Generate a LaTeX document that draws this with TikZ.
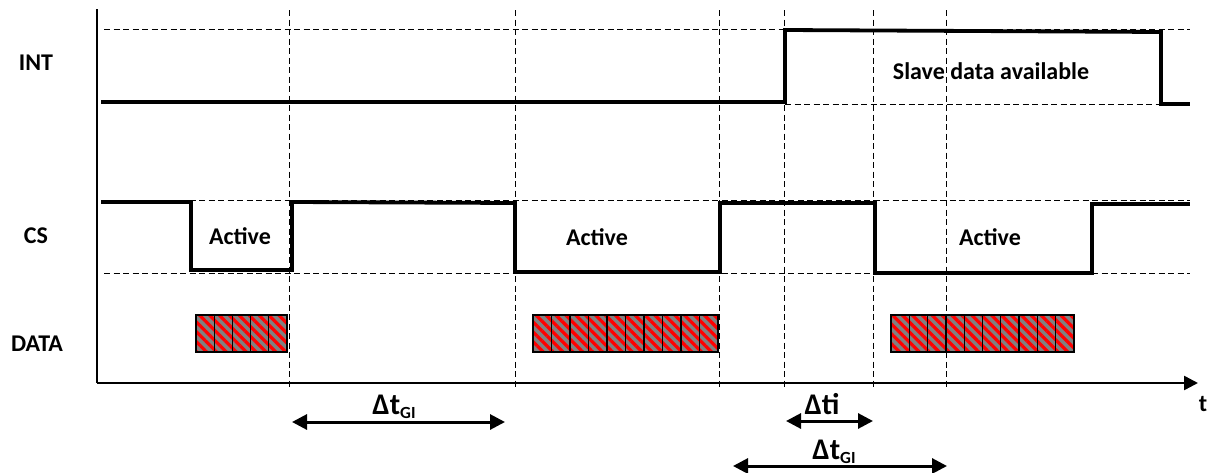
\documentclass[tikz,border=0pt]{standalone}
\usepackage{fontspec}
\setmainfont{Carlito}
\usetikzlibrary{arrows.meta,patterns.meta}
\begin{document}
\begin{tikzpicture}[x=1pt,y=-1pt,
  sig/.style={line width=3.8pt, line join=miter, line cap=rect},
  guide/.style={line width=1pt, dash pattern=on 6pt off 3.5pt},
  axisline/.style={line width=2.5pt, line join=miter},
  lbl/.style={font=\fontsize{24}{27}\selectfont\bfseries, inner sep=0pt, anchor=base},
  dlbl/.style={font=\fontsize{30}{32}\selectfont\bfseries, inner sep=0pt, anchor=base},
  dimarrow/.style={line width=3pt, {Triangle[length=15pt,width=15pt]}-{Triangle[length=15pt,width=15pt]}},
  cell/.style={draw=black, line width=1.3pt, preaction={fill=gray}, pattern={Lines[angle=-45,distance=7pt,line width=3.2pt]}, pattern color=red}
]
\useasboundingbox (0,0) rectangle (1208,472);

% guide lines
\draw[guide] (104,29) -- (1190,29);
\draw[guide] (785,104) -- (1190,104);
\draw[guide] (104,200) -- (1190,200);
\draw[guide] (104,273) -- (1190,273);
\foreach \x in {289,515,719,784,873,946} {
  \draw[guide] (\x,10) -- (\x,389);
}

% axes
\coordinate (ytop) at (97,9);
\coordinate (origin) at (97,383);
\coordinate (xend) at (1198,383);
\draw[axisline] (ytop) -- (origin);
\draw[axisline, -{Triangle[length=14pt,width=14pt]}] (origin) -- (xend);

% INT signal
\draw[sig] (103,102) -- (785,102) -- (785,30) -- (1161,32) -- (1161,104) -- (1188,104);

% CS signal
\draw[sig] (103,202) -- (191,202) -- (191,270) -- (292,270) -- (292,202)
  -- (515,203) -- (515,272) -- (720,272) -- (720,203) -- (875,203)
  -- (875,273) -- (1092,273) -- (1092,204) -- (1188,204);

% DATA blocks
\foreach \xa/\xb/\n in {196/287/5, 533/718/10, 891/1074/10} {
  \pgfmathsetmacro\w{(\xb-\xa)/\n}
  \foreach \i in {1,...,\n} {
    \path[cell] ({\xa+(\i-1)*\w},315) rectangle ({\xa+\i*\w},352);
  }
}

% labels
\node[lbl] (int) at (36,70) {INT};
\node[lbl] (cs) at (36,243) {CS};
\node[lbl] (data) at (37,351) {DATA};
\node[lbl] (act1) at (240,244) {Active};
\node[lbl] (act2) at (597,245) {Active};
\node[lbl] (act3) at (990,245) {Active};
\node[lbl] (slave) at (991,79) {Slave data available};
\node[lbl] (tlab) at (1203,411) {t};

% dimension arrows
\coordinate (a1l) at (292,422);
\coordinate (a1r) at (505,422);
\coordinate (a2l) at (786,421);
\coordinate (a2r) at (873,421);
\coordinate (a3l) at (733,466);
\coordinate (a3r) at (947,466);
\draw[dimarrow] (a1l) -- (a1r);
\draw[dimarrow] (a2l) -- (a2r);
\draw[dimarrow] (a3l) -- (a3r);
\node[dlbl] (dtgi1) at (394,414) {Δt\raisebox{-4pt}{\fontsize{17}{17}\selectfont GI}};
\node[dlbl] (dti) at (822,414) {Δti};
\node[dlbl] (dtgi2) at (834,459) {Δt\raisebox{-4pt}{\fontsize{17}{17}\selectfont GI}};
\end{tikzpicture}
\end{document}
